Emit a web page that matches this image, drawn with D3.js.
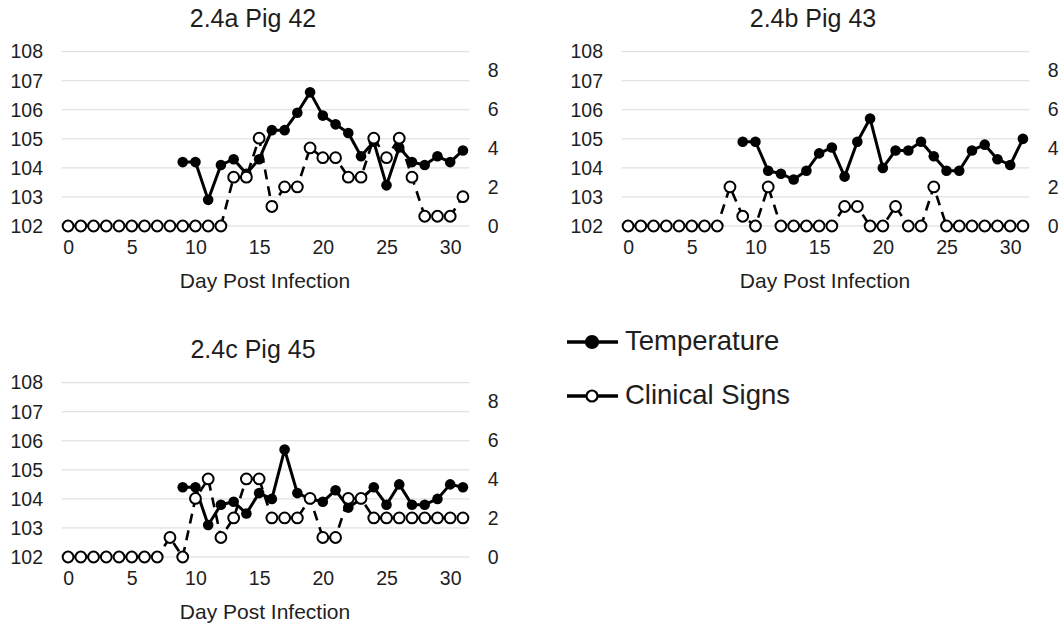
<!DOCTYPE html>
<html>
<head>
<meta charset="utf-8">
<script src="https://cdn.jsdelivr.net/npm/d3@7"></script>
<style>
  html, body { margin: 0; padding: 0; background: #fff; }
  svg text { font-family: "Liberation Sans", Arial, sans-serif; fill: #1e1e1e; }
</style>
</head>
<body>
<svg id="chart" width="1064" height="628"></svg>
<script>
// ---- data ----
const days = [0,1,2,3,4,5,6,7,8,9,10,11,12,13,14,15,16,17,18,19,20,21,22,23,24,25,26,27,28,29,30,31];
const xTickLabels = [0,5,10,15,20,25,30];
const tempTicks = [102,103,104,105,106,107,108];
const signTicks = [0,2,4,6,8];
const panelTitles = ["2.4a Pig 42", "2.4b Pig 43", "2.4c Pig 45"];
const xAxisTitle = "Day Post Infection";
const seriesNames = ["Temperature", "Clinical Signs"];

const tempPig42 = [null,null,null,null,null,null,null,null,null,
  104.2,104.2,102.9,104.1,104.3,103.8,104.3,105.3,105.3,105.9,106.6,105.8,105.5,105.2,104.4,104.9,103.4,104.7,104.2,104.1,104.4,104.2,104.6];
const signsPig42 = [0,0,0,0,0,0,0,0,0,0,0,0,0,
  2.5,2.5,4.5,1,2,2,4,3.5,3.5,2.5,2.5,4.5,3.5,4.5,2.5,0.5,0.5,0.5,1.5];

const tempPig43 = [null,null,null,null,null,null,null,null,null,
  104.9,104.9,103.9,103.8,103.6,103.9,104.5,104.7,103.7,104.9,105.7,104.0,104.6,104.6,104.9,104.4,103.9,103.9,104.6,104.8,104.3,104.1,105.0];
const signsPig43 = [0,0,0,0,0,0,0,0,2,0.5,0,2,0,0,0,0,0,1,1,0,0,1,0,0,2,0,0,0,0,0,0,0];

const tempPig45 = [null,null,null,null,null,null,null,null,null,
  104.4,104.4,103.1,103.8,103.9,103.5,104.2,104.0,105.7,104.2,104.0,103.9,104.3,103.7,104.0,104.4,103.8,104.5,103.8,103.8,104.0,104.5,104.4];
const signsPig45 = [0,0,0,0,0,0,0,0,1,0,3,4,1,2,4,4,2,2,2,3,1,1,3,3,2,2,2,2,2,2,2,2];

const tempDomain = [102, 108];
const signDomain = [0, 8.93];

// ---- layout ----
const svg = d3.select("#chart");
const plotW = { left: 61.7, right: 469.3 };
const plotH = { top: 51.7, bottom: 226 };
const FONT = '"Liberation Sans", Arial, sans-serif';

const panels = [
  { title: panelTitles[0], temp: tempPig42, signs: signsPig42, dx: 0,   dy: 0 },
  { title: panelTitles[1], temp: tempPig43, signs: signsPig43, dx: 560, dy: 0 },
  { title: panelTitles[2], temp: tempPig45, signs: signsPig45, dx: 0,   dy: 331 }
];

const x = d3.scalePoint().domain(days).range([plotW.left, plotW.right]).padding(0.5);
const yT = d3.scaleLinear().domain(tempDomain).range([plotH.bottom, plotH.top]);
const yS = d3.scaleLinear().domain(signDomain).range([plotH.bottom, plotH.top]);

panels.forEach(p => {
  const g = svg.append("g").attr("transform", `translate(${p.dx},${p.dy})`);

  // title
  g.append("text").attr("x", 253).attr("y", 18).attr("text-anchor", "middle")
    .attr("dominant-baseline", "central").style("font-size", "25px").text(p.title);

  // gridlines
  g.append("g").selectAll("line").data(tempTicks).join("line")
    .attr("x1", plotW.left).attr("x2", plotW.right)
    .attr("y1", d => yT(d)).attr("y2", d => yT(d))
    .attr("stroke", "#d9d9d9").attr("stroke-width", 1);

  // left axis
  const la = g.append("g").attr("transform", `translate(${plotW.left - 18.7},0)`)
    .call(d3.axisLeft(yT).tickValues(tempTicks).tickSize(0).tickPadding(0).tickFormat(d3.format("d")));
  la.select(".domain").remove();
  la.selectAll("text").style("font-size", "19.5px").attr("fill", "#1e1e1e").style("font-family", FONT);

  // right axis
  const ra = g.append("g").attr("transform", `translate(${plotW.right + 18.5},0)`)
    .call(d3.axisRight(yS).tickValues(signTicks).tickSize(0).tickPadding(0).tickFormat(d3.format("d")));
  ra.select(".domain").remove();
  ra.selectAll("text").style("font-size", "19.5px").attr("fill", "#1e1e1e").style("font-family", FONT);

  // bottom axis
  const ba = g.append("g").attr("transform", `translate(0,${plotH.bottom + 14})`)
    .call(d3.axisBottom(x).tickValues(xTickLabels).tickSize(0).tickPadding(0));
  ba.select(".domain").remove();
  ba.selectAll("text").style("font-size", "19.5px").attr("fill", "#1e1e1e")
    .attr("dy", "0.71em").attr("y", 0).style("font-family", FONT);

  g.append("text").attr("x", 265).attr("y", 280).attr("text-anchor", "middle")
    .attr("dominant-baseline", "central").style("font-size", "21px").text(xAxisTitle);

  const tData = days.map((d, i) => ({ d, v: p.temp[i] })).filter(o => o.v != null);
  const sData = days.map((d, i) => ({ d, v: p.signs[i] }));

  // temperature line
  g.append("path").datum(tData)
    .attr("fill", "none").attr("stroke", "#000").attr("stroke-width", 3).attr("stroke-linejoin", "round")
    .attr("d", d3.line().x(o => x(o.d)).y(o => yT(o.v)));
  g.append("g").selectAll("circle").data(tData).join("circle")
    .attr("cx", o => x(o.d)).attr("cy", o => yT(o.v)).attr("r", 5.3).attr("fill", "#000");

  // clinical signs line
  g.append("path").datum(sData)
    .attr("fill", "none").attr("stroke", "#000").attr("stroke-width", 2.6)
    .attr("stroke-dasharray", "10,7")
    .attr("d", d3.line().x(o => x(o.d)).y(o => yS(o.v)));
  g.append("g").selectAll("circle").data(sData).join("circle")
    .attr("cx", o => x(o.d)).attr("cy", o => yS(o.v)).attr("r", 5.4)
    .attr("fill", "#fff").attr("stroke", "#000").attr("stroke-width", 2);
});

// legend
const lg = svg.append("g");
const legendRows = [
  { name: seriesNames[0], y: 342, filled: true },
  { name: seriesNames[1], y: 396, filled: false }
];
legendRows.forEach(r => {
  lg.append("line").attr("x1", 567).attr("x2", 618).attr("y1", r.y).attr("y2", r.y)
    .attr("stroke", "#000").attr("stroke-width", 3.5);
  lg.append("circle").attr("cx", 592).attr("cy", r.y).attr("r", r.filled ? 6 : 5.5)
    .attr("fill", r.filled ? "#000" : "#fff").attr("stroke", "#000").attr("stroke-width", 2.2);
  lg.append("text").attr("x", 625).attr("y", r.y - 2).attr("dominant-baseline", "central")
    .style("font-size", "27.5px").text(r.name);
});
</script>
</body>
</html>
